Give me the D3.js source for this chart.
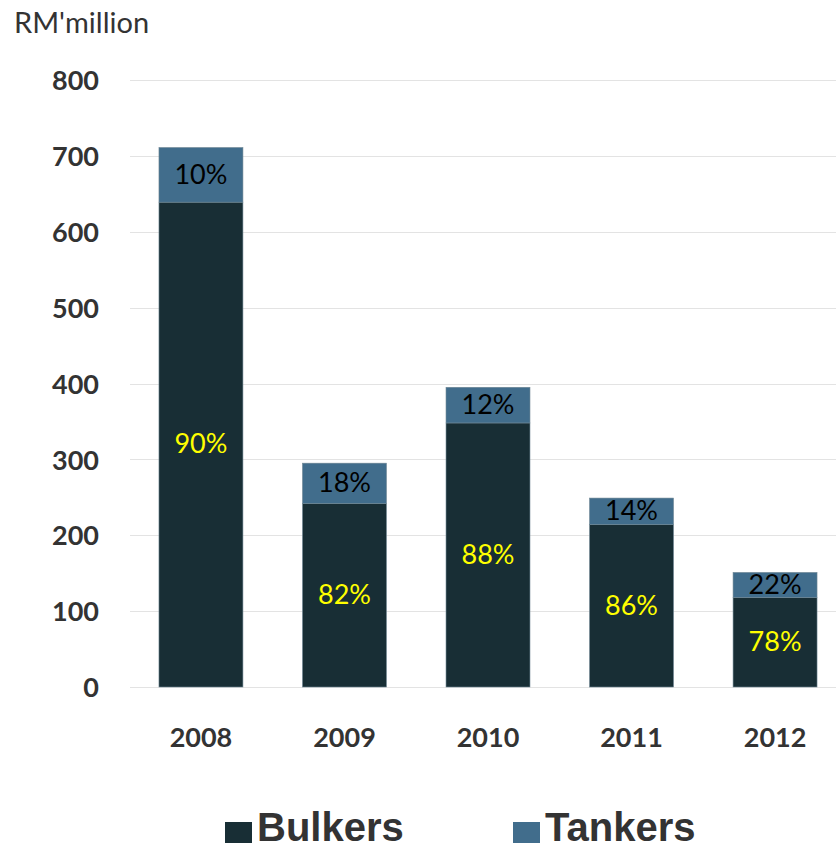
<!DOCTYPE html>
<html>
<head>
<meta charset="utf-8">
<script src="https://cdn.jsdelivr.net/npm/d3@7"></script>
<style>
  html, body { margin: 0; padding: 0; background: #fff; }
  svg { display: block; }
</style>
</head>
<body>
<svg id="chart" width="836" height="850"></svg>
<script>
// Fleet value by vessel type, RM'million
const years = ["2008", "2009", "2010", "2011", "2012"];
const bulkers = [639, 242, 348, 214, 118];
const tankers = [72, 53, 47, 35, 33];
const bulkerPct = ["90%", "82%", "88%", "86%", "78%"];
const tankerPct = ["10%", "18%", "12%", "14%", "22%"];
const yTicks = [0, 100, 200, 300, 400, 500, 600, 700, 800];
const seriesNames = ["Bulkers", "Tankers"];
const colors = { Bulkers: "#182e35", Tankers: "#416d8c" };

const svg = d3.select("#chart");
const W = 836, H = 850;
const plotLeft = 130, plotTop = 80, plotBottom = 687;

const x = d3.scaleBand()
  .domain(years)
  .range([135, 841])
  .paddingInner(0.415)
  .paddingOuter(0.167);

const y = d3.scaleLinear()
  .domain([0, 800])
  .range([plotBottom, plotTop]);

const rows = years.map((yr, i) => ({ year: yr, Bulkers: bulkers[i], Tankers: tankers[i] }));
const stacked = d3.stack().keys(seriesNames)(rows);

const font = "Lato, 'Open Sans', sans-serif";

// gridlines
svg.append("g")
  .selectAll("line")
  .data(yTicks)
  .join("line")
  .attr("x1", plotLeft)
  .attr("x2", W)
  .attr("y1", d => Math.round(y(d)) + 0.5)
  .attr("y2", d => Math.round(y(d)) + 0.5)
  .attr("stroke", "#e3e3e3")
  .attr("stroke-width", 1);

// y axis labels
const yAxis = d3.axisLeft(y).tickValues(yTicks).tickSize(0).tickPadding(0);
const yg = svg.append("g")
  .attr("transform", "translate(99,0)")
  .call(yAxis);
yg.select(".domain").remove();
yg.selectAll("text")
  .attr("font-family", font)
  .attr("font-size", 27)
  .attr("font-weight", "bold")
  .attr("fill", "#333")
  .attr("dy", "0.36em");

// x axis labels
const xAxis = d3.axisBottom(x).tickSize(0).tickPadding(0);
const xg = svg.append("g")
  .attr("transform", `translate(0,${plotBottom + 50})`)
  .call(xAxis);
xg.select(".domain").remove();
xg.selectAll("text")
  .attr("font-family", font)
  .attr("font-size", 27)
  .attr("font-weight", "bold")
  .attr("fill", "#333")
  .attr("dy", "0.36em");

// stacked bars
svg.append("g")
  .selectAll("g")
  .data(stacked)
  .join("g")
  .attr("fill", d => colors[d.key])
  .selectAll("rect")
  .data(d => d)
  .join("rect")
  .attr("x", d => x(d.data.year))
  .attr("width", x.bandwidth())
  .attr("y", d => y(d[1]))
  .attr("height", d => y(d[0]) - y(d[1]))
  .attr("stroke", "#6f8794")
  .attr("stroke-width", 0.6);

// percentage labels inside segments
const labelSets = [
  { layer: stacked[0], text: bulkerPct, color: "#ffff00" },
  { layer: stacked[1], text: tankerPct, color: "#000" }
];
labelSets.forEach(set => {
  svg.append("g")
    .selectAll("text")
    .data(set.layer)
    .join("text")
    .attr("x", d => x(d.data.year) + x.bandwidth() / 2)
    .attr("y", d => (y(d[0]) + y(d[1])) / 2 - 1)
    .attr("dy", "0.36em")
    .attr("text-anchor", "middle")
    .attr("font-family", font)
    .attr("font-size", 27)
    .attr("fill", set.color)
    .text((d, i) => set.text[i]);
});

// unit title
svg.append("text")
  .attr("x", 14)
  .attr("y", 33)
  .attr("font-family", font)
  .attr("font-size", 29)
  .attr("fill", "#333")
  .text("RM'million");

// legend
const legendX = [225, 513];
const lg = svg.append("g")
  .selectAll("g")
  .data(seriesNames)
  .join("g")
  .attr("transform", (d, i) => `translate(${legendX[i]},822)`);
lg.append("rect")
  .attr("width", 27)
  .attr("height", 21)
  .attr("fill", d => colors[d]);
lg.append("text")
  .attr("x", 32)
  .attr("y", 19)
  .attr("font-family", "'Liberation Sans', Arial, sans-serif")
  .attr("font-size", 40)
  .attr("font-weight", "bold")
  .attr("fill", "#333")
  .text(d => d);
</script>
</body>
</html>
